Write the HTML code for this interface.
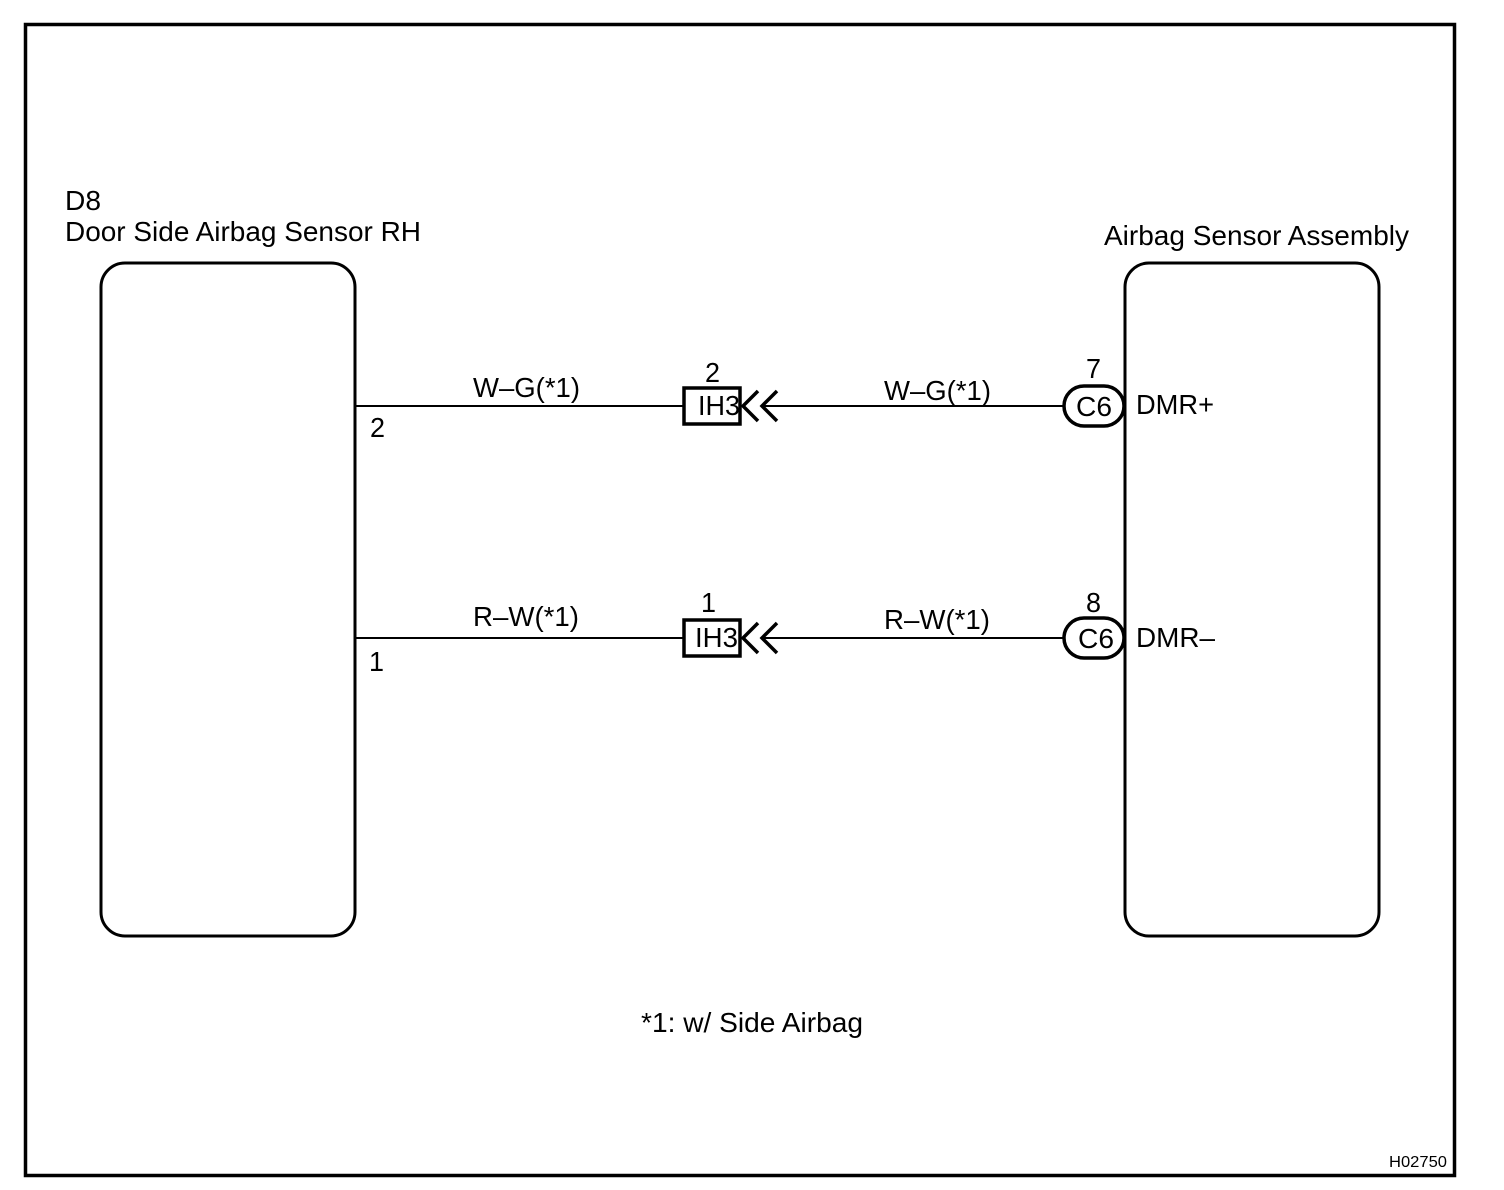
<!DOCTYPE html>
<html>
<head>
<meta charset="utf-8">
<style>
html,body{margin:0;padding:0;background:#fff;}
svg{display:block;}
text{font-family:"Liberation Sans",sans-serif;font-size:28px;fill:#000;}
</style>
</head>
<body>
<svg width="1504" height="1190" viewBox="0 0 1504 1190" xmlns="http://www.w3.org/2000/svg">
<rect width="1504" height="1190" fill="#fff"/>
<rect x="25.5" y="24.5" width="1429" height="1151" fill="none" stroke="#000" stroke-width="3.5"/>
<rect x="101" y="263" width="254" height="673" rx="24" ry="24" fill="none" stroke="#000" stroke-width="3"/>
<rect x="1125" y="263" width="254" height="673" rx="24" ry="24" fill="none" stroke="#000" stroke-width="3"/>

<g stroke="#000" stroke-width="2" fill="none">
<line x1="356" y1="406" x2="684" y2="406"/>
<line x1="762" y1="406" x2="1064" y2="406"/>
<line x1="356" y1="638" x2="684" y2="638"/>
<line x1="762" y1="638" x2="1064" y2="638"/>
</g>

<g fill="none" stroke="#000" stroke-width="3.5">
<rect x="684" y="388" width="56" height="36"/>
<rect x="684" y="620" width="56" height="36"/>
<rect x="1064" y="386" width="60" height="40" rx="20" ry="20" fill="#fff"/>
<rect x="1064" y="618" width="60" height="40" rx="20" ry="20" fill="#fff"/>
<polyline points="758,391 743,406 758,421"/>
<polyline points="777,391 762,406 777,421"/>
<polyline points="758,623 743,638 758,653"/>
<polyline points="777,623 762,638 777,653"/>
</g>

<text x="65" y="210" textLength="36" lengthAdjust="spacingAndGlyphs">D8</text>
<text x="65" y="241" textLength="356" lengthAdjust="spacingAndGlyphs">Door Side Airbag Sensor RH</text>
<text x="1104" y="245" textLength="305" lengthAdjust="spacingAndGlyphs">Airbag Sensor Assembly</text>

<text x="473" y="397" textLength="107" lengthAdjust="spacingAndGlyphs">W–G(*1)</text>
<text x="884" y="400" textLength="107" lengthAdjust="spacingAndGlyphs">W–G(*1)</text>
<text x="473" y="626" textLength="106" lengthAdjust="spacingAndGlyphs">R–W(*1)</text>
<text x="884" y="629" textLength="106" lengthAdjust="spacingAndGlyphs">R–W(*1)</text>

<text x="705" y="382" textLength="15" lengthAdjust="spacingAndGlyphs">2</text>
<text x="701" y="612" textLength="15" lengthAdjust="spacingAndGlyphs">1</text>
<text x="698" y="415" textLength="42" lengthAdjust="spacingAndGlyphs">IH3</text>
<text x="695" y="647" textLength="43" lengthAdjust="spacingAndGlyphs">IH3</text>

<text x="370" y="437" textLength="15" lengthAdjust="spacingAndGlyphs">2</text>
<text x="369" y="671" textLength="15" lengthAdjust="spacingAndGlyphs">1</text>

<text x="1086" y="378" textLength="15" lengthAdjust="spacingAndGlyphs">7</text>
<text x="1086" y="612" textLength="15" lengthAdjust="spacingAndGlyphs">8</text>
<text x="1076" y="416" textLength="36" lengthAdjust="spacingAndGlyphs">C6</text>
<text x="1078" y="648" textLength="36" lengthAdjust="spacingAndGlyphs">C6</text>
<text x="1136" y="414" textLength="78" lengthAdjust="spacingAndGlyphs">DMR+</text>
<text x="1136" y="647" textLength="79" lengthAdjust="spacingAndGlyphs">DMR–</text>

<text x="641" y="1032" textLength="222" lengthAdjust="spacingAndGlyphs">*1: w/ Side Airbag</text>
<text x="1389" y="1167" textLength="58" lengthAdjust="spacingAndGlyphs" style="font-size:16px">H02750</text>
</svg>
</body>
</html>
